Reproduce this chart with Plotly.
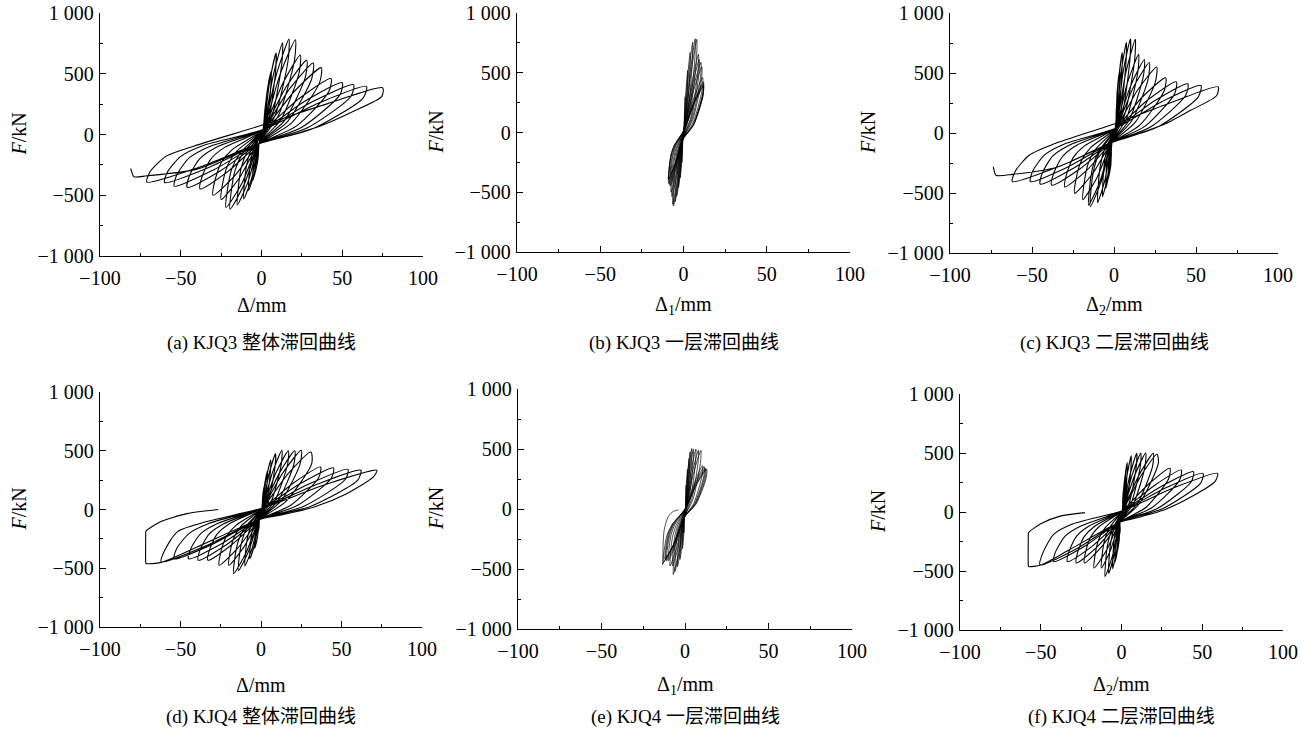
import plotly.graph_objects as go

# ---------------- data ----------------
# (a) KJQ3 overall: displacement Δ (mm) and force F (kN), one row per cycle
kjq3_total_disp = [
    0, 1, 2, 3, 2.6, 0.5, -1.5, -2, -3, -2.7, -1,
    1, 3.3, 6, 5.8, 3, -1.5, -3, -5.5, -5.3, -2.8,
    1, 5, 9, 8.7, 4.5, -1.5, -4.4, -8, -7.8, -6.6, -4.8,
    1, 7.2, 13, 12.6, 6.5, -1.5, -6, -11, -10.7, -9.1, -6.6,
    1, 9.4, 17, 16.5, 8.5, -1.5, -8.3, -15, -14.5, -12.5, -9,
    1, 11.6, 21, 20.4, 10.5, -1.5, -10.7, -19.5, -18.9, -16.2, -11.7,
    1, 13.2, 24, 23.3, 12, -1.5, -12.1, -22, -21.3, -18.3, -13.2,
    1, 15.4, 28, 27.2, 14, -1.5, -13.8, -25, -24.3, -20.75, -15,
    1, 17.6, 32, 31, 16, -1.5, -16.5, -30, -29.1, -24.9, -18,
    1, 20.4, 37, 35.9, 18.5, -1.5, -20.9, -38, -36.9, -31.5, -22.8,
    1, 23.7, 43, 41.7, 21.5, -1.5, -25.3, -46, -44.6, -38.2, -27.6,
    1, 27.5, 50, 48.5, 25, -1.5, -29.7, -54, -52.4, -44.8, -32.4,
    1, 31.4, 57, 55.3, 28.5, -1.5, -33, -60, -58.2, -49.8, -36,
    1, 35.8, 65, 63, 32.5, -1.5, -39, -71, -68.9, -59, -42,
    1, 41, 75, 74.5, 57, 36, 15.6, -1.5, -40, -71, -79, -80.5, -81,
]
kjq3_total_force = [
    0, 40, 190, 300, 200, 0, -75, -180, -260, -190, -40,
    40, 338, 520, 401, 86, -75, -264, -380, -296, -73,
    40, 431, 670, 521, 126, -75, -314, -460, -360, -210, -110,
    40, 483, 755, 589, 149, -75, -357, -530, -416, -245, -131,
    40, 502, 785, 613, 157, -75, -388, -580, -456, -270, -146,
    40, 499, 780, 609, 156, -75, -410, -615, -484, -287, -157,
    40, 421, 655, 509, 122, -75, -401, -600, -472, -280, -152,
    40, 395, 612, 475, 110, -75, -360, -535, -420, -247, -133,
    40, 380, 588, 455, 104, -75, -339, -500, -392, -230, -122,
    40, 356, 550, 425, 94, -75, -306, -448, -350, -204, -106,
    40, 300, 460, 353, 69, -75, -298, -435, -340, -198, -102,
    40, 279, 426, 326, 60, -75, -292, -425, -332, -193, -100,
    40, 269, 410, 313, 56, -75, -273, -395, -308, -178, -90,
    40, 261, 396, 302, 52, -75, -271, -391, -305, -178, -96,
    80, 254, 385, 314, 191, 68, -14, -75, -285, -340, -348, -300, -280,
]

# (b) KJQ3 first storey: Δ1 (mm), F (kN)
kjq3_s1_disp = [
    0, 0.3, 0.6, 1, 0.9, 0.2, -0.5, -0.6, -1, -0.9, -0.2,
    0.3, 1.4, 2.5, 2.4, 1.25, -0.5, -1.1, -2, -1.9, -1,
    0.3, 2.2, 4, 3.9, 2, -0.5, -1.65, -3, -2.9, -2.5, -1.8,
    0.3, 3, 5.5, 5.3, 2.75, -0.5, -2.2, -4, -3.9, -3.3, -2.4,
    0.3, 3.9, 7, 6.8, 3.5, -0.5, -2.75, -5, -4.85, -4.15, -3,
    0.3, 4.4, 8, 7.8, 4, -0.5, -3.3, -6, -5.8, -5, -3.6,
    0.3, 5, 9, 8.7, 4.5, -0.5, -3.6, -6.5, -6.3, -5.4, -3.9,
    0.3, 5.2, 9.5, 9.2, 4.75, -0.5, -3.85, -7, -6.8, -5.8, -4.2,
    0.3, 5.8, 10.5, 10.2, 5.25, -0.5, -4.1, -7.5, -7.3, -6.2, -4.5,
    0.3, 6, 11, 10.7, 5.5, -0.5, -4.4, -8, -7.8, -6.6, -4.8,
    0.3, 6.3, 11.5, 11.2, 5.75, -0.5, -4.7, -8.5, -8.2, -7, -5.1,
    0.3, 6.6, 12, 11.6, 6, -0.5, -5, -9, -8.7, -7.5, -5.4,
    0.3, 6.6, 12, 11.6, 6, -0.5, -5, -9, -8.7, -7.5, -5.4,
    0.3, 6.6, 12, 11.6, 6, -0.5, -5, -9, -8.7, -7.5, -5.4,
    0.3, 6.6, 12, 11.6, 6, -0.5, -4.5, -7.5, -7.4,
]
kjq3_s1_force = [
    0, 20, 190, 300, 220, 20, -60, -170, -250, -180, -30,
    20, 330, 520, 404, 97, -60, -258, -380, -300, -88,
    20, 423, 670, 524, 137, -60, -308, -460, -364, -220, -124,
    20, 476, 755, 592, 160, -60, -351, -530, -420, -255, -145,
    20, 494, 785, 616, 168, -60, -382, -580, -460, -280, -160,
    20, 491, 780, 612, 167, -60, -404, -615, -488, -297, -170,
    20, 414, 655, 512, 133, -60, -395, -600, -476, -290, -166,
    20, 387, 612, 478, 121, -60, -355, -535, -424, -258, -146,
    20, 372, 588, 458, 115, -60, -333, -500, -396, -240, -136,
    20, 349, 550, 428, 105, -60, -301, -448, -354, -214, -120,
    20, 293, 460, 356, 80, -60, -293, -435, -344, -208, -117,
    20, 272, 426, 329, 71, -60, -286, -425, -336, -203, -114,
    20, 262, 410, 316, 67, -60, -268, -395, -312, -188, -105,
    20, 253, 396, 305, 63, -60, -265, -391, -309, -186, -103,
    20, 246, 385, 296, 60, -60, -250, -345, -280,
]

# (c) KJQ3 second storey: Δ2 (mm), F (kN)
kjq3_s2_disp = [
    0, 1, 1.4, 2, 1.8, 0.3, -1.5, -1.6, -2, -1.9, -0.8,
    1, 1.9, 3.5, 3.4, 1.75, -1.5, -1.9, -3.5, -3.4, -1.75,
    1, 2.75, 5, 4.85, 2.5, -1.5, -2.75, -5, -4.85, -4.15, -3,
    1, 4.1, 7.5, 7.3, 3.75, -1.5, -3.85, -7, -6.8, -5.8, -4.2,
    1, 5.5, 10, 9.7, 5, -1.5, -5.5, -10, -9.7, -8.3, -6,
    1, 7.15, 13, 12.6, 6.5, -1.5, -8, -14.5, -14.1, -12, -8.7,
    1, 8.25, 15, 14.55, 7.5, -1.5, -8.5, -15.5, -15, -12.9, -9.3,
    1, 10.2, 18.5, 17.9, 9.25, -1.5, -10.45, -19, -18.4, -15.8, -11.4,
    1, 11.8, 21.5, 20.9, 10.75, -1.5, -13.2, -24, -23.3, -19.9, -14.4,
    1, 14.3, 26, 25.2, 13, -1.5, -16.5, -30, -29.1, -24.9, -18,
    1, 17.3, 31.5, 30.6, 15.75, -1.5, -20.9, -38, -36.9, -31.5, -22.8,
    1, 20.9, 38, 36.9, 19, -1.5, -24.75, -45, -43.65, -37.4, -27,
    1, 24.75, 45, 43.65, 22.5, -1.5, -28, -51, -49.5, -42.3, -30.6,
    1, 29.15, 53, 51.4, 26.5, -1.5, -34.1, -62, -60.1, -51.5, -37.2,
    1, 35, 63.5, 62.5, 47, 30, 13, -1.5, -35, -62, -72, -73.3, -73.6,
]
kjq3_s2_force = [
    0, 40, 190, 300, 210, 0, -80, -180, -260, -190, -40,
    40, 338, 520, 400, 82, -80, -266, -380, -296, -73,
    40, 431, 670, 520, 123, -80, -316, -460, -360, -210, -110,
    40, 483, 755, 588, 145, -80, -359, -530, -416, -245, -131,
    40, 502, 785, 612, 154, -80, -390, -580, -456, -270, -146,
    40, 499, 780, 608, 152, -80, -412, -615, -484, -287, -157,
    40, 421, 655, 508, 118, -80, -402, -600, -472, -280, -152,
    40, 395, 612, 474, 107, -80, -375, -555, -436, -257, -138,
    40, 380, 588, 454, 100, -80, -342, -503, -394, -231, -123,
    40, 356, 550, 424, 90, -80, -309, -450, -352, -205, -107,
    40, 300, 460, 352, 66, -80, -300, -435, -340, -198, -102,
    40, 279, 426, 325, 57, -80, -294, -425, -332, -193, -100,
    40, 269, 410, 312, 52, -80, -282, -405, -316, -183, -94,
    40, 261, 396, 301, 49, -80, -282, -405, -316, -183, -94,
    80, 254, 385, 310, 191, 68, -14, -80, -285, -345, -352, -300, -282,
]

# (d) KJQ4 overall: Δ (mm), F (kN)
kjq4_total_disp = [
    0, 0.5, 1.1, 2, 1.8, 0.3, -1, -1.2, -2, -1.8, -0.5,
    0.5, 2.2, 4, 3.9, 2, -1, -2.2, -4, -3.9, -2,
    0.5, 3.3, 6, 5.8, 3, -1, -3.85, -7, -6.8, -5.8, -4.2,
    0.5, 4.95, 9, 8.7, 4.5, -1, -5.5, -10, -9.7, -8.3, -6,
    0.5, 7.15, 13, 12.6, 6.5, -1, -7.7, -14, -13.6, -11.6, -8.4,
    0.5, 9.35, 17, 16.5, 8.5, -1, -9.35, -17, -16.5, -14.1, -10.2,
    0.5, 11.55, 21, 20.4, 10.5, -1, -11, -20, -19.4, -16.6, -12,
    0.5, 13.75, 25, 24.25, 12.5, -1, -14.3, -26, -25.2, -21.6, -15.6,
    0.5, 17, 31, 31.5, 15.5, -1, -18.15, -33, -32, -27.4, -19.8,
    0.5, 20.35, 37, 35.9, 18.5, -1, -21.45, -39, -37.8, -32.4, -23.4,
    0.5, 24.75, 45, 43.65, 22.5, -1, -24.75, -45, -43.65, -37.4, -27,
    0.5, 29.7, 54, 52.4, 27, -1, -29.7, -54, -52.4, -44.8, -32.4,
    0.5, 34.1, 62, 60.1, 31, -1, -34.1, -62, -60.1, -52, -33,
    0.5, 39.6, 72, 69.8, 53.2, 33, 11.8, -1, -39.4, -62, -71.4, -71.6, -71.6, -71.6, -71.2, -62.7, -46, -26.5,
]
kjq4_total_force = [
    0, 10, 120, 200, 140, -20, -85, -150, -200, -150, -30,
    10, 208, 330, 247, 27, -85, -237, -330, -262, -82,
    10, 264, 420, 319, 51, -85, -293, -420, -334, -205, -119,
    10, 299, 476, 364, 66, -85, -330, -480, -382, -235, -137,
    10, 316, 504, 386, 74, -85, -355, -520, -414, -255, -149,
    10, 314, 500, 383, 73, -85, -371, -546, -435, -268, -157,
    10, 314, 500, 383, 73, -85, -327, -475, -378, -232, -135,
    10, 316, 504, 386, 74, -85, -327, -475, -378, -232, -135,
    10, 307, 489, 390, 70, -85, -300, -432, -344, -211, -123,
    10, 228, 362, 273, 36, -85, -300, -432, -344, -211, -123,
    10, 223, 354, 266, 34, -85, -293, -420, -334, -205, -119,
    10, 216, 342, 257, 30, -85, -293, -420, -334, -205, -119,
    10, 211, 334, 250, 28, -85, -309, -447, -356, -190, -100,
    10, 211, 334, 277, 135, 21, -49, -85, -318, -450, -460, -452, -200, -191, -180, -106, -35, 0,
]

# (e) KJQ4 first storey: Δ1 (mm), F (kN)
kjq4_s1_disp = [
    0, 0.3, 0.5, 0.7, 0.6, 0.1, -0.5, -0.5, -0.7, -0.6, -0.2,
    0.3, 0.8, 1.5, 1.45, 0.75, -0.5, -0.8, -1.5, -1.45, -0.75,
    0.3, 1.4, 2.5, 2.4, 1.25, -0.5, -1.65, -3, -2.9, -2.5, -1.8,
    0.3, 1.65, 3, 2.9, 1.5, -0.5, -2.5, -4.5, -4.35, -3.7, -2.7,
    0.3, 2.2, 4, 3.9, 2, -0.5, -3.3, -6, -5.8, -5, -3.6,
    0.3, 2.75, 5, 4.85, 2.5, -0.5, -3.85, -7, -6.8, -5.8, -4.2,
    0.3, 3.6, 6.5, 6.3, 3.25, -0.5, -4.1, -7.5, -7.3, -6.2, -4.5,
    0.3, 4.4, 8, 7.75, 4, -0.5, -4.95, -9, -8.7, -7.5, -5.4,
    0.3, 5.2, 9.5, 9.2, 4.75, -0.5, -5.5, -10, -9.7, -8.3, -6,
    0.3, 5.8, 10.5, 10.2, 5.25, -0.5, -6, -11, -10.7, -9.1, -6.6,
    0.3, 6.3, 11.5, 11.2, 5.75, -0.5, -6.3, -11.5, -11.2, -9.5, -6.9,
    0.3, 6.6, 12, 11.6, 6, -0.5, -6.6, -12, -11.6, -10, -7.2,
    0.3, 6.9, 12.5, 12.1, 6.25, -0.5, -7.15, -13, -12.6, -10.8, -7.8,
    0.3, 7.15, 13, 12.6, 6.5, -0.5, -7.2, -13.2, -13.4, -13.3, -13, -12.4, -10, -7, -4,
]
kjq4_s1_force = [
    0, 5, 120, 200, 140, -20, -70, -150, -200, -150, -30,
    5, 207, 330, 250, 38, -70, -231, -330, -263, -85,
    5, 262, 420, 322, 62, -70, -287, -420, -335, -208, -123,
    5, 297, 476, 367, 77, -70, -324, -480, -383, -238, -141,
    5, 314, 504, 389, 85, -70, -349, -520, -415, -258, -153,
    5, 312, 500, 386, 84, -70, -365, -546, -436, -271, -160,
    5, 312, 500, 386, 84, -70, -321, -475, -379, -235, -139,
    5, 306, 490, 378, 81, -70, -321, -475, -379, -235, -139,
    5, 305, 489, 377, 81, -70, -294, -432, -345, -214, -126,
    5, 226, 362, 276, 47, -70, -294, -432, -345, -214, -126,
    5, 221, 354, 269, 44, -70, -287, -420, -335, -208, -123,
    5, 214, 342, 260, 41, -70, -287, -420, -335, -208, -123,
    5, 209, 334, 253, 39, -70, -304, -447, -357, -221, -131,
    5, 209, 334, 253, 39, -70, -310, -455, -465, -440, -257, -170, -62, -20, -7,
]

# (f) KJQ4 second storey: Δ2 (mm), F (kN)
kjq4_s2_disp = [
    0, 0.5, 0.8, 1.3, 1.2, 0.2, -1, -0.8, -1.3, -1.2, -0.4,
    0.5, 1.4, 2.5, 2.4, 1.25, -1, -1.4, -2.5, -2.4, -1.25,
    0.5, 1.9, 3.5, 3.4, 1.75, -1, -2.2, -4, -3.9, -3.3, -2.4,
    0.5, 3.3, 6, 5.8, 3, -1, -3, -5.5, -5.3, -4.6, -3.3,
    0.5, 5.2, 9.4, 9.1, 4.7, -1, -4.4, -8, -7.8, -6.6, -4.8,
    0.5, 6.6, 12, 11.6, 6, -1, -5.6, -10.2, -9.9, -8.5, -6.1,
    0.5, 8.25, 15, 14.5, 7.5, -1, -6.9, -12.5, -12.1, -10.4, -7.5,
    0.5, 10.8, 19.7, 19.1, 9.85, -1, -9.35, -17, -16.5, -14.1, -10.2,
    0.5, 12.1, 22, 22.8, 11, -1, -12.65, -23, -22.3, -19.1, -13.8,
    0.5, 16.5, 30, 29.1, 15, -1, -15.4, -28, -27.2, -23.2, -16.8,
    0.5, 20.35, 37, 35.9, 18.5, -1, -18.4, -33.5, -32.5, -27.8, -20.1,
    0.5, 24.5, 44.5, 43.2, 22.25, -1, -23.1, -42, -40.7, -34.9, -25.2,
    0.5, 27.8, 50.5, 49, 25.25, -1, -27.8, -50.5, -49, -42, -30,
    0.5, 32.7, 59.5, 58, 44, 27, 9.7, -1, -32, -50, -57.5, -57.7, -57.7, -57.7, -57.3, -50, -38, -22.6,
]
kjq4_s2_force = [
    0, 10, 120, 200, 140, -20, -85, -150, -200, -150, -30,
    10, 208, 330, 247, 27, -85, -237, -330, -262, -82,
    10, 264, 420, 319, 51, -85, -293, -420, -334, -205, -119,
    10, 299, 476, 364, 66, -85, -330, -480, -382, -235, -137,
    10, 312, 497, 381, 72, -85, -355, -520, -414, -255, -149,
    10, 314, 500, 383, 73, -85, -372, -548, -436, -269, -157,
    10, 314, 500, 383, 73, -85, -327, -475, -378, -232, -135,
    10, 312, 497, 381, 72, -85, -327, -475, -378, -232, -135,
    10, 307, 489, 412, 70, -85, -300, -432, -344, -211, -123,
    10, 233, 370, 279, 38, -85, -300, -432, -344, -211, -123,
    10, 225, 356, 268, 34, -85, -293, -420, -334, -205, -119,
    10, 216, 342, 257, 30, -85, -293, -420, -334, -205, -119,
    10, 207, 328, 245, 27, -85, -311, -449, -357, -190, -100,
    10, 207, 328, 260, 135, 21, -49, -85, -318, -450, -462, -455, -195, -181, -170, -100, -35, -5,
]

x_tick_vals = [-100, -50, 0, 50, 100]
x_tick_text = ["\u2212100", "\u221250", "0", "50", "100"]
y_tick_vals = [-1000, -500, 0, 500, 1000]
y_tick_text = ["\u22121 000", "\u2212500", "0", "500", "1 000"]

captions = ["(a) KJQ3 整体滞回曲线", "(b) KJQ3 一层滞回曲线", "(c) KJQ3 二层滞回曲线",
            "(d) KJQ4 整体滞回曲线", "(e) KJQ4 一层滞回曲线", "(f) KJQ4 二层滞回曲线"]
x_titles = ["Δ/mm", "Δ<sub>1</sub>/mm", "Δ<sub>2</sub>/mm",
            "Δ/mm", "Δ<sub>1</sub>/mm", "Δ<sub>2</sub>/mm"]
series = [
    (kjq3_total_disp, kjq3_total_force), (kjq3_s1_disp, kjq3_s1_force), (kjq3_s2_disp, kjq3_s2_force),
    (kjq4_total_disp, kjq4_total_force), (kjq4_s1_disp, kjq4_s1_force), (kjq4_s2_disp, kjq4_s2_force),
]

# ---------------- layout (pixel boxes of the plot areas) ----------------
W, H = 1302, 732
boxes = [  # x_left, x_right, y_top, y_bottom (pixels)
    (100, 423, 13, 256), (517, 850, 13, 252), (950, 1278, 13, 253),
    (100, 422, 392, 627), (518, 852, 389, 629), (960, 1283, 394, 630),
]
xtitle_y = [305, 305, 305, 685, 685, 685]
caption_y = [343, 343, 343, 717, 717, 717]
line_w = [1.1, 0.7, 1.1, 1.1, 0.7, 1.1]

SERIF = "Liberation Serif, Noto Sans CJK SC, serif"

fig = go.Figure()
annotations = []
for i, ((xs, ys), (x0, x1, yt, yb)) in enumerate(zip(series, boxes)):
    k = "" if i == 0 else str(i + 1)
    fig.add_trace(go.Scatter(
        x=xs, y=ys, mode="lines", xaxis="x" + k, yaxis="y" + k,
        line=dict(color="black", width=line_w[i], shape="spline", smoothing=0.7),
        hoverinfo="skip", showlegend=False))
    axis_common = dict(
        showline=True, linecolor="black", linewidth=1.3, mirror=False,
        ticks="inside", ticklen=6, tickwidth=1.2, tickcolor="black",
        showgrid=False, zeroline=False, fixedrange=True, automargin=False,
        tickfont=dict(family=SERIF, size=20, color="black"),
    )
    fig.layout["xaxis" + k] = dict(
        axis_common, domain=[x0 / W, x1 / W], anchor="y" + k, range=[-100, 100],
        tickmode="array", tickvals=x_tick_vals, ticktext=x_tick_text,
        minor=dict(ticks="inside", ticklen=3, tickwidth=1.2, tickcolor="black", dtick=25, tick0=0),
        ticklabelstandoff=4)
    fig.layout["yaxis" + k] = dict(
        axis_common, domain=[1 - yb / H, 1 - yt / H], anchor="x" + k, range=[-1000, 1000],
        tickmode="array", tickvals=y_tick_vals, ticktext=y_tick_text,
        minor=dict(ticks="inside", ticklen=3, tickwidth=1.2, tickcolor="black", dtick=250, tick0=0),
        ticklabelstandoff=1)
    x_zero = x0 + (x1 - x0) / 2
    y_zero = yt + (yb - yt) / 2
    annotations.append(dict(xref="paper", yref="paper", x=(x0 - 82) / W, y=1 - y_zero / H,
                            text="<i>F</i>/kN", textangle=-90, showarrow=False,
                            xanchor="center", yanchor="middle",
                            font=dict(family=SERIF, size=20, color="black")))
    annotations.append(dict(xref="paper", yref="paper", x=x_zero / W, y=1 - xtitle_y[i] / H,
                            text=x_titles[i], showarrow=False, xanchor="center", yanchor="middle",
                            font=dict(family=SERIF, size=20, color="black")))
    annotations.append(dict(xref="paper", yref="paper", x=x_zero / W, y=1 - caption_y[i] / H,
                            text=captions[i], showarrow=False, xanchor="center", yanchor="middle",
                            font=dict(family=SERIF, size=19, color="black")))

fig.update_layout(width=W, height=H, margin=dict(l=0, r=0, t=0, b=0, autoexpand=False),
                  paper_bgcolor="white", plot_bgcolor="white",
                  showlegend=False, annotations=annotations)
fig.write_html("out.html", config={"displayModeBar": False},
               post_script="document.body.style.margin='0px';document.body.style.overflow='hidden';")
